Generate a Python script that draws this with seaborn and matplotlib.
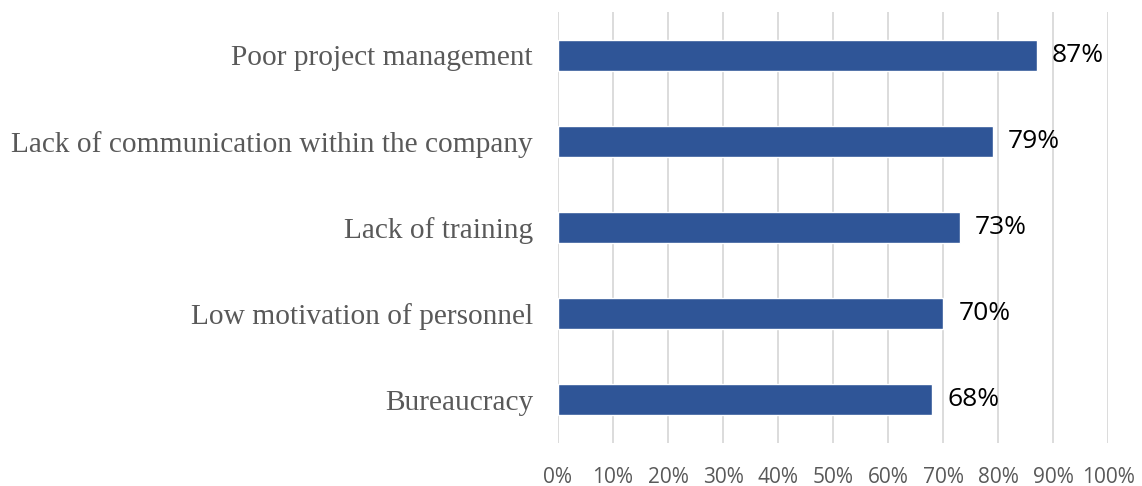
import seaborn as sns
import matplotlib.pyplot as plt
import pandas as pd
from matplotlib.ticker import PercentFormatter

# categories and shares
causes = ["Poor project management", "Lack of communication within the company",
          "Lack of training", "Low motivation of personnel", "Bureaucracy"]
shares = [87, 79, 73, 70, 68]
ticks = list(range(0, 101, 10))

df = pd.DataFrame({"cause": causes, "share": shares})

sns.set_style("white")
fig = plt.figure(figsize=(11.42, 4.86), dpi=100)
ax = fig.add_axes([558 / 1142, 43 / 486, 550 / 1142, 431 / 486])

sns.barplot(data=df, x="share", y="cause", orient="h", color="#2F5597",
            saturation=1, width=0.36, ax=ax, zorder=3)

ax.set_xlim(0, 100)
ax.set_ylim(4.5, -0.5)
ax.set_xticks(ticks)
ax.xaxis.set_major_formatter(PercentFormatter(decimals=0))
ax.grid(axis="x", color="#d9d9d9", linewidth=1.3, zorder=0)
ax.grid(axis="y", visible=False)
for s in ax.spines.values():
    s.set_visible(False)
ax.set_xlabel("")
ax.set_ylabel("")
ax.tick_params(axis="x", length=0, pad=17, labelsize=15, labelcolor="#595959")
ax.tick_params(axis="y", length=0, pad=18, labelcolor="#595959")
for lab in ax.get_xticklabels():
    lab.set_fontfamily("Open Sans")
for lab in ax.get_yticklabels():
    lab.set_fontfamily("Liberation Serif")
    lab.set_fontsize(21.2)

for c in ax.containers:
    ax.bar_label(c, labels=[f"{v}%" for v in shares], padding=11,
                 fontsize=19, family="Open Sans", color="black")

fig.savefig("out.png", dpi=100)
